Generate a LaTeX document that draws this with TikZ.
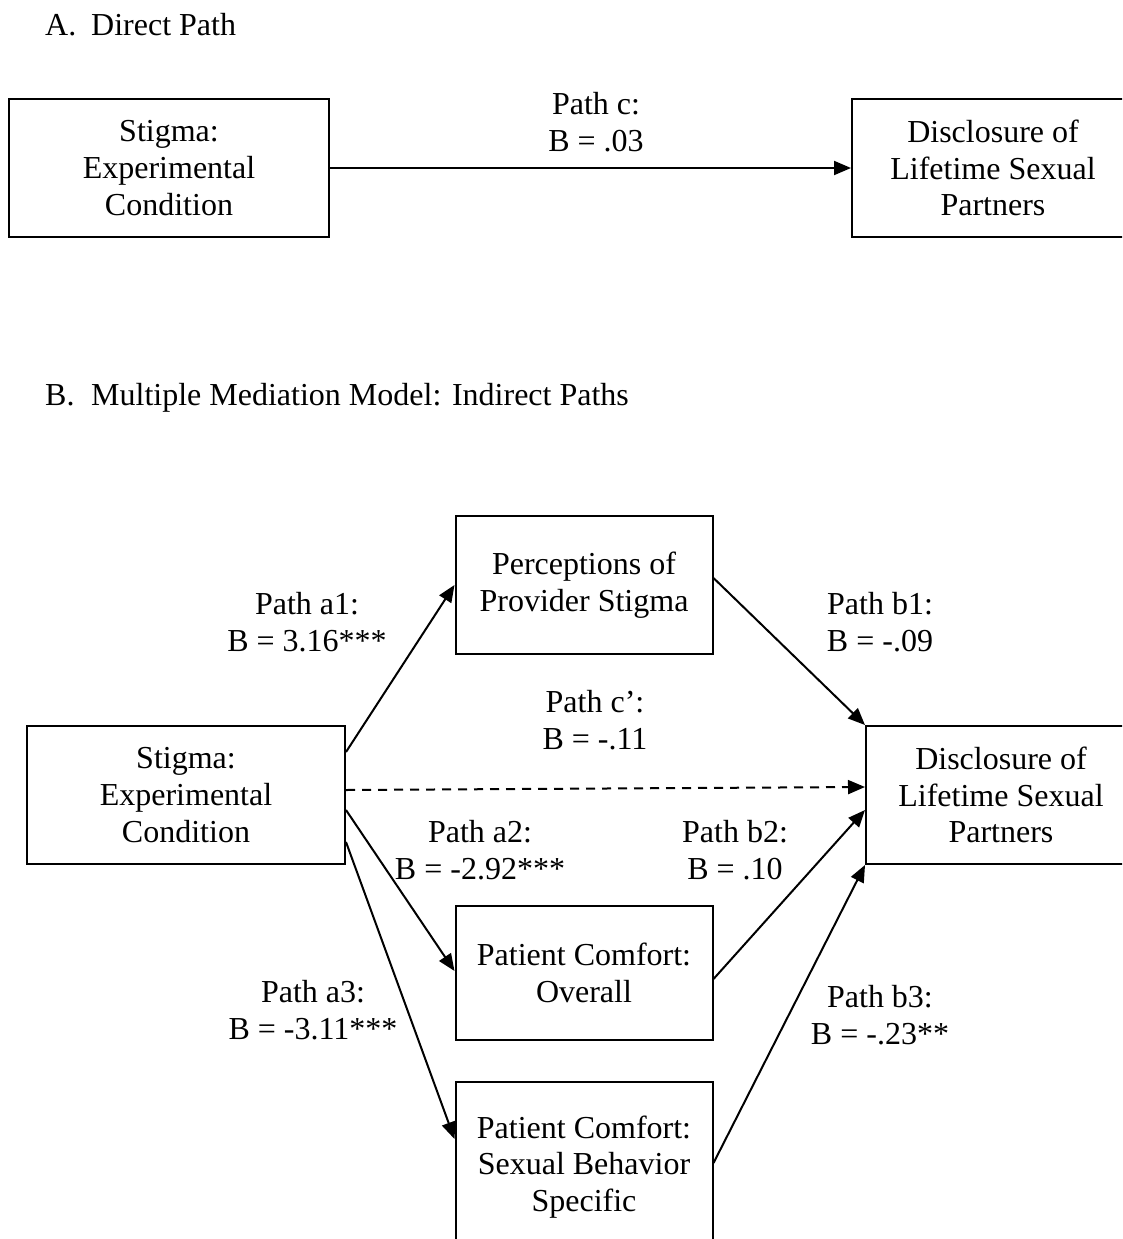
\documentclass[tikz,border=0pt]{standalone}
\usepackage{fontspec}
\setmainfont{Liberation Serif}
\usetikzlibrary{arrows.meta}
\begin{document}
\begin{tikzpicture}[x=1pt,y=-1pt,
  every node/.style={font=\fontsize{32}{36.8}\selectfont},
  box/.style={draw, line width=2pt, align=center, inner sep=0pt},
  lbl/.style={align=center, inner sep=0pt},
  arr/.style={line width=2pt, -{Triangle[length=17pt,width=14pt]}},
  darr/.style={arr, dash pattern=on 9pt off 7pt}
]
\useasboundingbox (0,0) rectangle (1122,1239);
\clip (0,0) rectangle (1122,1239);

% Panel A
\node[lbl, anchor=base west] (ha) at (45,36) {\makebox[46pt][l]{A.}Direct Path};
\node[box, minimum width=320pt, minimum height=138pt] (al) at (169,168) {Stigma:\\Experimental\\Condition};
\node[box, minimum width=282pt, minimum height=138pt] (ar) at (993,168) {Disclosure of\\Lifetime Sexual\\Partners};
\node[lbl] (lc) at (596,122) {Path c:\\B = .03};
\draw[arr] (al.east) -- (ar.west);

% Panel B
\node[lbl, anchor=base west] (hb) at (45,405) {\makebox[46pt][l]{B.}Multiple Mediation Model: Indirect Paths};
\node[box, minimum width=318pt, minimum height=138pt] (bl) at (186,795) {Stigma:\\Experimental\\Condition};
\node[box, minimum width=270pt, minimum height=138pt] (br) at (1001,795) {Disclosure of\\Lifetime Sexual\\Partners};
\node[box, minimum width=257pt, minimum height=138pt] (pp) at (584,585) {Perceptions of\\Provider Stigma};
\node[box, minimum width=257pt, minimum height=134pt] (ov) at (584,973) {Patient Comfort:\\Overall};
\node[box, minimum width=257pt, minimum height=200pt, anchor=north] (sb) at (584,1081) {};
\node[lbl] (sbt) at (584,1167) {Patient Comfort:\\Sexual Behavior\\Specific};

\node[lbl] (la1) at (307,622) {Path a1:\\B = 3.16***};
\node[lbl] (lb1) at (880,622) {Path b1:\\B = -.09};
\node[lbl] (lcp) at (595,720) {Path c’:\\B = -.11};
\node[lbl] (la2) at (480,850) {Path a2:\\B = -2.92***};
\node[lbl] (lb2) at (735,850) {Path b2:\\B = .10};
\node[lbl] (la3) at (313,1010) {Path a3:\\B = -3.11***};
\node[lbl] (lb3) at (880,1015) {Path b3:\\B = -.23**};

\draw[arr] ([yshift=43pt]bl.east) -- (pp.west);
\draw[darr] ([yshift=5pt]bl.east) -- ([yshift=8pt]br.west);
\draw[arr] ([yshift=-15pt]bl.east) -- ([yshift=2pt]ov.west);
\draw[arr] ([yshift=-47pt]bl.east) -- ([yshift=-58pt]sb.north west);
\draw[arr] ([yshift=7pt]pp.east) -- (br.north west);
\draw[arr] ([yshift=-6pt]ov.east) -- ([yshift=-15pt]br.west);
\draw[arr] ([yshift=-82pt]sb.north east) -- (br.south west);
\end{tikzpicture}
\end{document}
